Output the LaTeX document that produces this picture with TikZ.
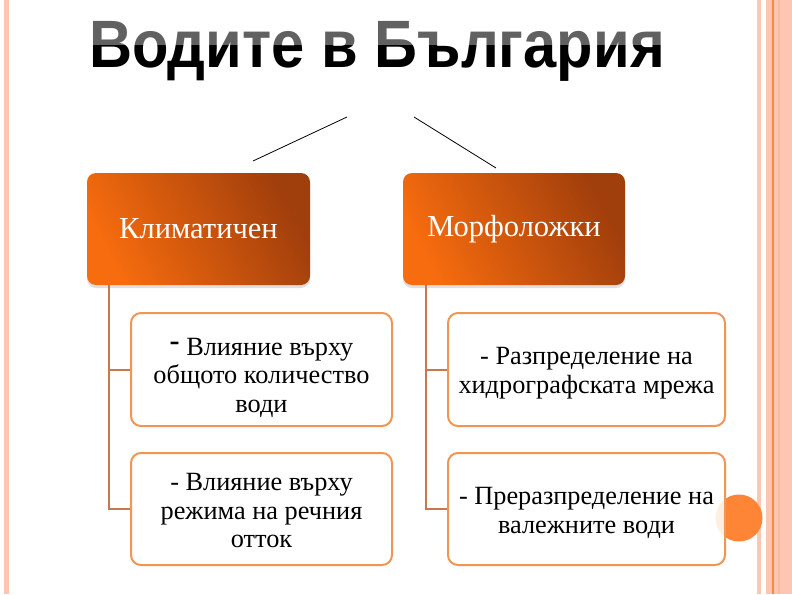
\documentclass[tikz,border=0pt]{standalone}
\usepackage{fontspec}
\setmainfont{Liberation Serif}
\newfontfamily\titlefont{Liberation Sans}
\usetikzlibrary{shadows}
\definecolor{stripe}{RGB}{252,198,178}
\definecolor{stripeline}{RGB}{249,138,64}
\definecolor{stripeband}{RGB}{250,186,160}
\definecolor{brightor}{RGB}{247,108,14}
\definecolor{darkor}{RGB}{160,62,12}
\definecolor{boxline}{RGB}{240,150,84}
\definecolor{connline}{RGB}{200,120,76}
\definecolor{accent}{RGB}{253,133,53}
\begin{document}
\begin{tikzpicture}[x=1pt,y=-1pt,
  titlestyle/.style={font=\titlefont\bfseries\fontsize{67}{70}\selectfont, text=black, inner sep=0pt, anchor=base, xscale=0.89, transform shape},
  catbox/.style={rounded corners=9pt, minimum width=223pt, minimum height=112pt,
    shading=axis, top color=darkor, bottom color=brightor, shading angle=-62,
    text=white, font=\fontsize{30.5}{34}\selectfont, inner sep=0pt,
    drop shadow={opacity=0.25, shadow xshift=0pt, shadow yshift=-3pt}},
  itembox/.style={rounded corners=10pt, draw=boxline, line width=2pt,
    fill=white, fill opacity=0.87, inner sep=0pt},
  itemtext/.style={align=center, font=\fontsize{26.3}{28.5}\selectfont, inner sep=0pt},
  conn/.style={draw=connline, line width=2pt},
  thin/.style={draw=black, line width=0.8pt}]
\useasboundingbox (0,0) rectangle (792,594);
\fill[white] (0,0) rectangle (792,594);
% side stripes
\fill[stripe] (4,0) rectangle (9,594);
\fill[stripe] (757,0) rectangle (761,594);
\fill[stripe] (766,0) rectangle (792,594);
\fill[stripeline] (772,0) rectangle (773.5,594);
\fill[stripeband] (778,0) rectangle (780,594);
% title
\node[titlestyle] (title) at (377,67) {Водите в България};
\fill[white, opacity=0.38] (80,8) rectangle (680,45);
% lines
\coordinate (l1a) at (253,161);
\coordinate (l1b) at (347,117);
\coordinate (l2a) at (414,117);
\coordinate (l2b) at (496,168);
\draw[thin] (l1a) -- (l1b);
\draw[thin] (l2a) -- (l2b);
% category boxes
\node[catbox, minimum width=223pt] (klim) at (198.5,229) {Климатичен};
\node[catbox, minimum width=222pt] (morf) at (514,229) {Морфоложки};
% accent circle
\fill[accent] (739,518) circle (23.5);
% item boxes
\node[itembox, minimum width=261pt, minimum height=113pt] (k1) at (261.5,369.5) {};
\node[itembox, minimum width=261pt, minimum height=112pt] (k2) at (261.5,509) {};
\node[itembox, minimum width=277pt, minimum height=113pt] (m1) at (586.5,369.5) {};
\node[itembox, minimum width=277pt, minimum height=112pt] (m2) at (586.5,509) {};
\node[itemtext, yshift=-8pt] (k1t) at (k1)
  {\raisebox{5pt}{\bfseries\fontsize{30}{30}\selectfont -}\ Влияние върху\\общото количество\\води};
\node[itemtext, yshift=-2pt] (k2t) at (k2)
  {- Влияние върху\\режима на речния\\отток};
\node[itemtext, yshift=-3.5pt] (m1t) at (m1)
  {- Разпределение на\\хидрографската мрежа};
\node[itemtext, yshift=-4pt] (m2t) at (m2)
  {- Преразпределение на\\валежните води};
% connectors
\coordinate (kx) at (109,285);
\coordinate (mx) at (426,285);
\draw[conn] (kx) |- (k1.west);
\draw[conn] (kx) |- (k2.west);
\draw[conn] (mx) |- (m1.west);
\draw[conn] (mx) |- (m2.west);
\end{tikzpicture}
\end{document}
